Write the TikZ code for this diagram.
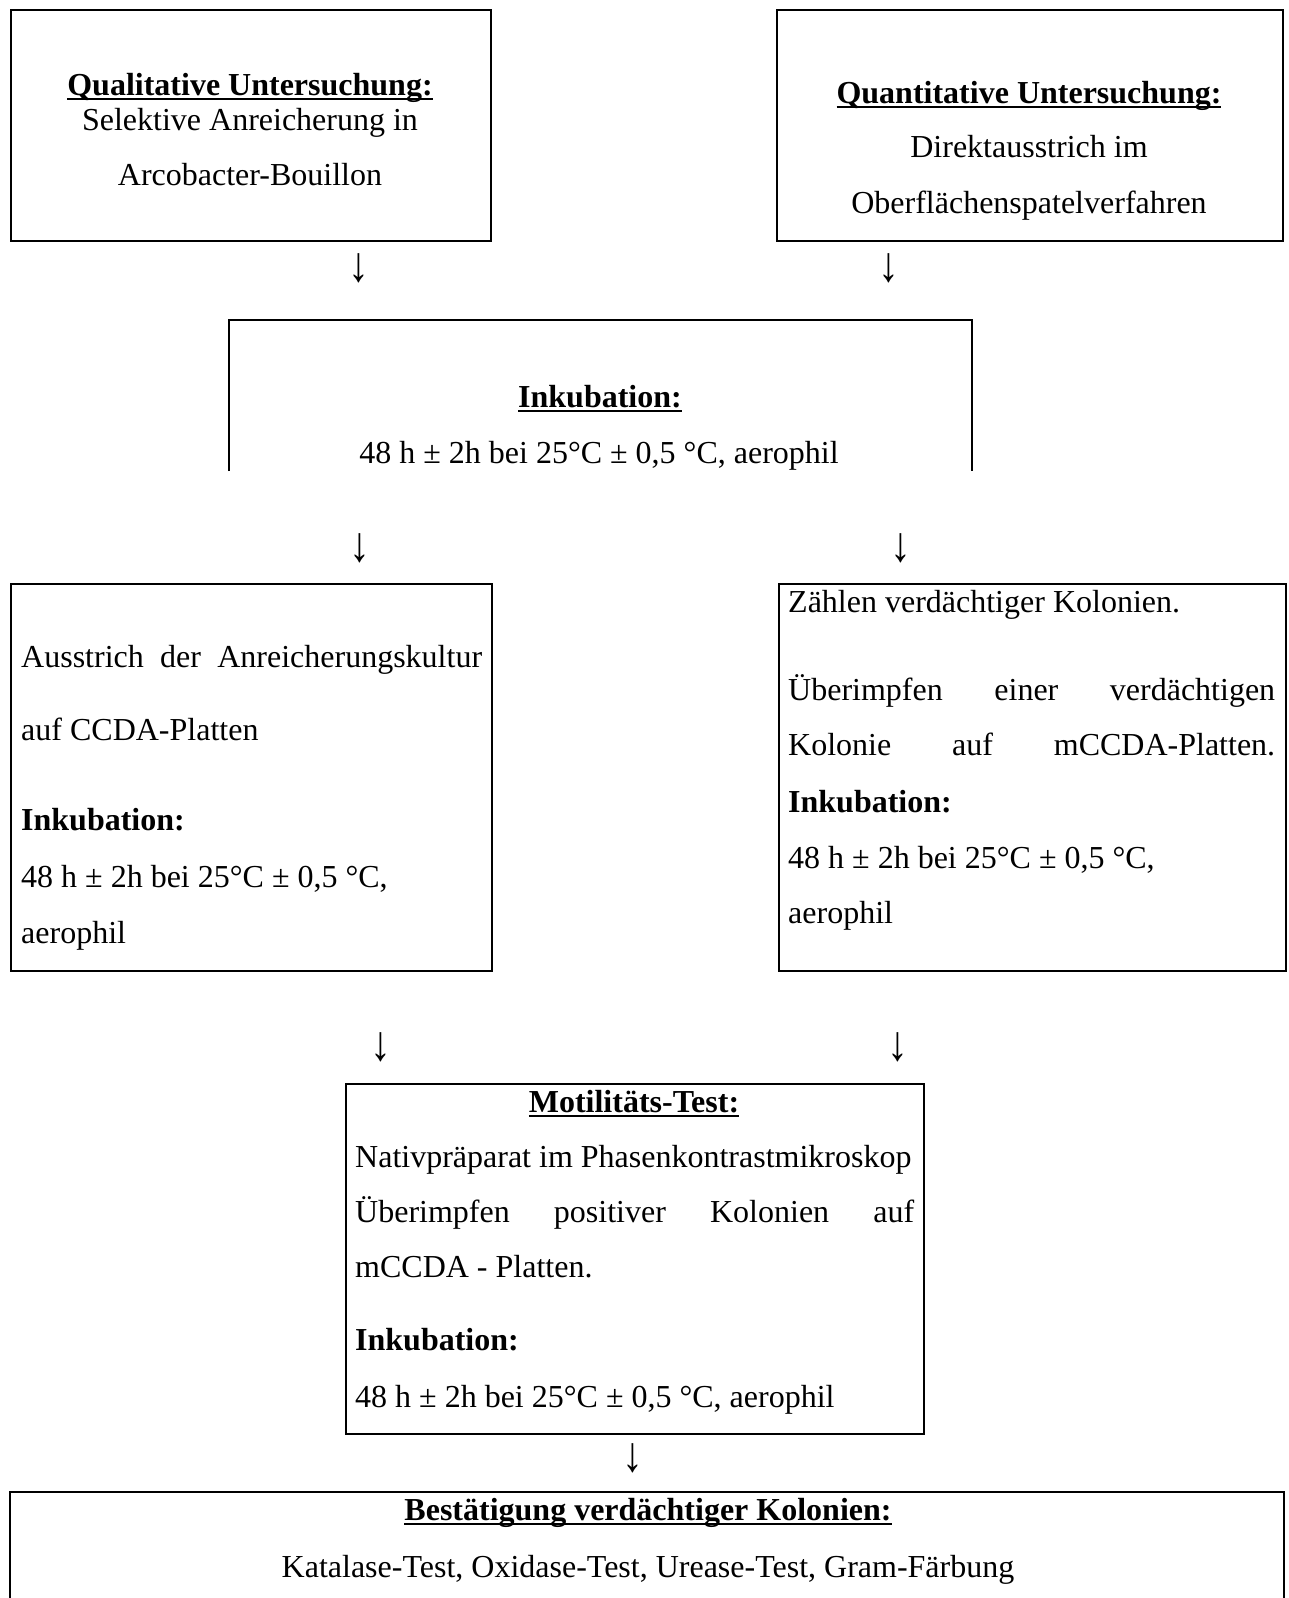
\documentclass[tikz,border=0pt]{standalone}
\usepackage{fontspec}
\setmainfont{Liberation Serif}
\newcommand{\myul}[1]{\setbox0\hbox{#1}\rlap{\vrule width \wd0 height -2.5pt depth 5pt}\box0}
\newcommand{\downarr}{\scalebox{1.3}[1.55]{↓}}
\begin{document}
\begin{tikzpicture}[x=1pt,y=-1pt,
  frame/.style={draw, line width=2pt, inner sep=0pt, anchor=north west},
  openframe/.style={draw, line width=2pt},
  txt/.style={inner sep=0pt, anchor=base, font=\fontsize{32}{38}\selectfont},
  ltxt/.style={txt, anchor=base west},
  arr/.style={inner sep=0pt, anchor=center, font=\fontsize{32}{38}\selectfont}]
\useasboundingbox (0,0) rectangle (1289,1598);

% boxes
\node[frame, minimum width=480pt, minimum height=231pt] (b1) at (10,9) {};
\node[frame, minimum width=506pt, minimum height=231pt] (b2) at (776,9) {};
\coordinate (b3bl) at (229,471);
\coordinate (b3br) at (972,471);
\coordinate (b3tr) at (972,320);
\draw[openframe] (b3bl) |- (b3tr) -- (b3br);
\node[frame, minimum width=481pt, minimum height=387pt] (b4) at (10,583) {};
\node[frame, minimum width=507pt, minimum height=387pt] (b5) at (778,583) {};
\node[frame, minimum width=578pt, minimum height=350pt] (b6) at (345,1083) {};
\coordinate (b7bl) at (10,1598);
\coordinate (b7br) at (1284,1598);
\coordinate (b7tr) at (1284,1492);
\draw[openframe] (b7bl) |- (b7tr) -- (b7br);

% box 1
\node[txt] (t11) at (250,95) {\myul{\textbf{Qualitative Untersuchung:}}};
\node[txt] (t12) at (250,130) {Selektive Anreicherung in};
\node[txt] (t13) at (250,185) {Arcobacter-Bouillon};

% box 2
\node[txt] (t21) at (1029,103) {\myul{\textbf{Quantitative Untersuchung:}}};
\node[txt] (t22) at (1029,157) {Direktausstrich im};
\node[txt] (t23) at (1029,213) {Oberflächenspatelverfahren};

% arrows
\node[arr] (a1) at (359,268) {\downarr};
\node[arr] (a2) at (889,268) {\downarr};
\node[arr] (a3) at (360,548) {\downarr};
\node[arr] (a4) at (901,548) {\downarr};
\node[arr] (a5) at (381,1047) {\downarr};
\node[arr] (a6) at (898,1047) {\downarr};
\node[arr] (a7) at (633,1458) {\downarr};

% box 3
\node[txt] (t31) at (600,407) {\myul{\textbf{Inkubation:}}};
\node[txt] (t32) at (599,463) {48 h ± 2h bei 25°C ± 0,5 °C, aerophil};

% box 4
\node[ltxt] (t41) at (21,667) {\makebox[461pt][s]{Ausstrich der Anreicherungskultur}};
\node[ltxt] (t42) at (21,740) {auf CCDA-Platten};
\node[ltxt] (t43) at (21,830) {\textbf{Inkubation:}};
\node[ltxt] (t44) at (21,887) {48 h ± 2h bei 25°C ± 0,5 °C,};
\node[ltxt] (t45) at (21,943) {aerophil};

% box 5
\node[ltxt] (t51) at (788,612) {Zählen verdächtiger Kolonien.};
\node[ltxt] (t52) at (788,700) {\makebox[487pt][s]{Überimpfen einer verdächtigen}};
\node[ltxt] (t53) at (788,755) {\makebox[487pt][s]{Kolonie auf mCCDA-Platten.}};
\node[ltxt] (t54) at (788,812) {\textbf{Inkubation:}};
\node[ltxt] (t55) at (788,868) {48 h ± 2h bei 25°C ± 0,5 °C,};
\node[ltxt] (t56) at (788,923) {aerophil};

% box 6
\node[txt] (t61) at (634,1112) {\myul{\textbf{Motilitäts-Test:}}};
\node[ltxt] (t62) at (355,1167) {Nativpräparat im Phasenkontrastmikroskop};
\node[ltxt] (t63) at (355,1222) {\makebox[559pt][s]{Überimpfen positiver Kolonien auf}};
\node[ltxt] (t64) at (355,1277) {mCCDA - Platten.};
\node[ltxt] (t65) at (355,1350) {\textbf{Inkubation:}};
\node[ltxt] (t66) at (355,1407) {48 h ± 2h bei 25°C ± 0,5 °C, aerophil};

% box 7
\node[txt] (t71) at (648,1520) {\myul{\textbf{Bestätigung verdächtiger Kolonien:}}};
\node[txt] (t72) at (648,1577) {Katalase-Test, Oxidase-Test, Urease-Test, Gram-Färbung};
\end{tikzpicture}
\end{document}
